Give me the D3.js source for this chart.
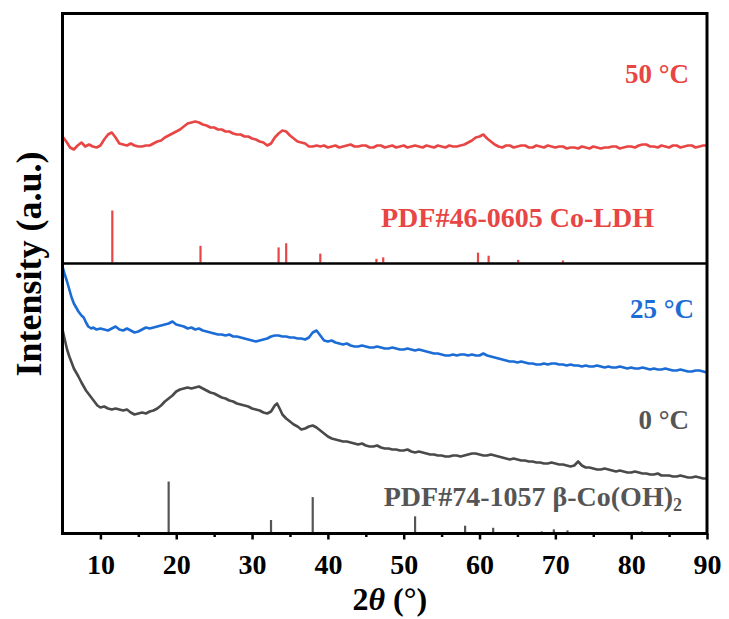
<!DOCTYPE html>
<html>
<head>
<meta charset="utf-8">
<script src="https://cdn.jsdelivr.net/npm/d3@7/dist/d3.min.js"></script>
<style>
    body { margin: 0; background: #fff; }
    svg text { font-family: "Liberation Serif", "Times New Roman", serif; font-weight: bold; }
</style>
</head>
<body>
<div id="chart"></div>
<script>
// XRD patterns: [2theta, intensity (a.u., already stacked)]
const red50 = [[5,397],[5.5,392],[6,386],[6.5,384],[7,388],[7.5,391],[8,387],[8.5,389],[9,387],[9.5,386],[10,388],[10.5,394],[11,399],[11.5,401],[12,396],[12.5,390],[13,389],[13.5,388],[14,390],[14.5,388],[15,387],[15.5,387],[16,388],[16.5,388],[17,390],[17.5,392],[18,393],[18.5,396],[19,398],[19.5,400],[20,402],[20.5,404],[21,407],[21.5,410],[22,411],[22.5,412],[23,411],[23.5,409],[24,408],[24.5,406],[25,406],[25.5,404],[26,404],[26.5,402],[27,402],[27.5,400],[28,399],[28.5,399],[29,397],[29.5,397],[30,395],[30.5,394],[31,392],[31.5,391],[32,388],[32.5,390],[33,396],[33.5,400],[34,403],[34.5,402],[35,398],[35.5,395],[36,392],[36.5,391],[37,390],[37.5,387],[38,387],[38.5,388],[39,387],[39.5,388],[40,386],[40.5,387],[41,388],[41.5,386],[42,387],[42.5,388],[43,389],[43.5,387],[44,387],[44.5,388],[45,388],[45.5,386],[46,386],[46.5,388],[47,388],[47.5,386],[48,387],[48.5,388],[49,386],[49.5,387],[50,388],[50.5,386],[51,387],[51.5,388],[52,387],[52.5,386],[53,388],[53.5,387],[54,386],[54.5,388],[55,387],[55.5,386],[56,388],[56.5,387],[57,387],[57.5,388],[58,389],[58.5,391],[59,393],[59.5,396],[60,397],[60.5,399],[61,395],[61.5,392],[62,389],[62.5,387],[63,386],[63.5,388],[64,388],[64.5,386],[65,387],[65.5,388],[66,388],[66.5,386],[67,386],[67.5,388],[68,387],[68.5,386],[69,388],[69.5,387],[70,386],[70.5,387],[71,387],[71.5,385],[72,386],[72.5,386],[73,385],[73.5,387],[74,386],[74.5,385],[75,387],[75.5,386],[76,385],[76.5,386],[77,386],[77.5,387],[78,387],[78.5,385],[79,386],[79.5,387],[80,387],[80.5,386],[81,388],[81.5,389],[82,389],[82.5,387],[83,387],[83.5,386],[84,388],[84.5,387],[85,386],[85.5,388],[86,388],[86.5,386],[87,387],[87.5,388],[88,388],[88.5,386],[89,387],[89.5,388],[90,388]];

const blue25 = [[5,267],[5.3,259],[5.6,252],[5.9,244],[6.2,236],[6.5,230],[6.8,226],[7.1,222],[7.5,218],[7.8,216],[8.1,211],[8.4,207],[8.8,205],[9,206],[9.5,204],[10,205],[10.5,204],[11,203],[11.5,205],[12,207],[12.5,204],[13,203],[13.5,205],[14,203],[14.5,201],[15,202],[15.5,204],[16,206],[16.5,205],[17,206],[17.5,207],[18,208],[18.5,209],[19,210],[19.5,212],[20,209],[20.5,208],[21,207],[21.5,205],[22,206],[22.5,204],[23,205],[23.5,203],[24,202],[24.5,201],[25,200],[25.5,199],[26,199],[26.5,198],[27,199],[27.5,197],[28,197],[28.5,196],[29,195],[29.5,194],[30,193],[30.5,192],[31,193],[31.5,194],[32,195],[32.5,197],[33,198],[33.5,198],[34,197],[34.5,197],[35,196],[35.5,196],[36,195],[36.5,195],[37,194],[37.5,196],[38,201],[38.5,203],[39,198],[39.5,193],[40,192],[40.5,193],[41,191],[41.5,190],[42,189],[42.5,190],[43,188],[43.5,187],[44,187],[44.5,188],[45,187],[45.5,186],[46,186],[46.5,187],[47,186],[47.5,185],[48,185],[48.5,186],[49,185],[49.5,184],[50,184],[50.5,185],[51,184],[51.5,183],[52,184],[52.5,183],[53,182],[53.5,181],[54,180],[54.5,180],[55,179],[55.5,178],[56,178],[56.5,179],[57,178],[57.5,179],[58,179],[58.5,178],[59,179],[59.5,178],[60,178],[60.5,180],[61,178],[61.5,177],[62,176],[62.5,175],[63,174],[63.5,173],[64,172],[64.5,172],[65,171],[65.5,172],[66,171],[66.5,170],[67,170],[67.5,169],[68,169],[68.5,170],[69,169],[69.5,170],[70,170],[70.5,169],[71,169],[71.5,168],[72,169],[72.5,168],[73,168],[73.5,167],[74,168],[74.5,167],[75,167],[75.5,168],[76,167],[76.5,166],[77,167],[77.5,166],[78,166],[78.5,167],[79,166],[79.5,165],[80,166],[80.5,165],[81,165],[81.5,166],[82,165],[82.5,164],[83,165],[83.5,164],[84,164],[84.5,165],[85,164],[85.5,163],[86,163],[86.5,164],[87,163],[87.5,162],[88,162],[88.5,163],[89,163],[89.5,162],[90,161]];

const grey0 = [[5,204],[5.3,194],[5.6,184],[5.9,177],[6.2,171],[6.5,165],[6.8,161],[7.1,157],[7.5,151],[7.8,147],[8.1,143],[8.4,140],[8.8,136],[9.2,132],[9.6,128],[10,126],[10.5,127],[11,125],[11.5,124],[12,125],[12.5,124],[13,123],[13.5,124],[14,121],[14.5,119],[15,120],[15.5,121],[16,120],[16.5,122],[17,123],[17.5,125],[18,128],[18.5,132],[19,135],[19.5,138],[20,142],[20.5,144],[21,145],[21.5,146],[22,145],[22.5,146],[23,147],[23.5,145],[24,143],[24.5,141],[25,140],[25.5,138],[26,136],[26.5,135],[27,133],[27.5,132],[28,130],[28.5,129],[29,128],[29.5,127],[30,125],[30.5,124],[31,123],[31.5,121],[32,120],[32.5,122],[33,128],[33.3,130],[33.7,124],[34,119],[34.5,115],[35,112],[35.5,109],[36,107],[36.5,104],[37,105],[37.5,107],[38,108],[38.5,106],[39,103],[39.5,100],[40,97],[40.5,95],[41,94],[41.5,93],[42,92],[42.5,92],[43,91],[43.5,90],[44,89],[44.5,90],[45,88],[45.5,87],[46,87],[46.5,88],[47,86],[47.5,85],[48,85],[48.5,84],[49,84],[49.5,83],[50,83],[50.5,84],[51,82],[51.5,81],[52,82],[52.5,81],[53,80],[53.5,79],[54,79],[54.5,78],[55,78],[55.5,77],[56,77],[56.5,78],[57,78],[57.5,77],[58,78],[58.5,79],[59,80],[59.5,80],[60,79],[60.5,78],[61,78],[61.5,79],[62,78],[62.5,77],[63,76],[63.5,75],[64,74],[64.5,75],[65,74],[65.5,73],[66,73],[66.5,72],[67,72],[67.5,71],[68,71],[68.5,70],[69,70],[69.5,71],[70,70],[70.5,69],[71,69],[71.5,68],[72,67],[72.5,68],[73,72],[73.5,68],[74,66],[74.5,66],[75,65],[75.5,64],[76,64],[76.5,65],[77,64],[77.5,63],[78,62],[78.5,63],[79,62],[79.5,61],[80,61],[80.5,62],[81,61],[81.5,60],[82,60],[82.5,59],[83,59],[83.5,60],[84,58],[84.5,58],[85,58],[85.5,57],[86,57],[86.5,58],[87,57],[87.5,56],[88,56],[88.5,57],[89,56],[89.5,55],[90,55]];

// standard cards: peak position and relative intensity (%)
const ldhPeaks = [11.57, 23.2, 33.5, 34.5, 39.0, 46.4, 47.3, 59.8, 61.2, 65.1, 71.0];
const ldhIntensity = [100, 32, 29, 37, 17, 7, 10, 19, 13, 5, 4];
const cooh2Peaks = [19.0, 32.5, 38.0, 38.7, 51.5, 58.1, 61.8, 68.2, 69.8, 71.6, 81.4, 88.2];
const cooh2Intensity = [100, 26, 70, 3, 33, 15, 11, 4, 8, 6, 4, 2];

const ldhBase = 271;      // a.u. level where the LDH card sits
const panelSplit = 270;   // a.u. level of the divider line

const xTicks = [10, 20, 30, 40, 50, 60, 70, 80, 90];
const xMinor = [15, 25, 35, 45, 55, 65, 75, 85];

let margin = {top: 13.5, right: 22, bottom: 85.5, left: 62.5};
let width = 729 - margin.left - margin.right;
let height = 619 - margin.top - margin.bottom;

let svg = d3.select("#chart").append("svg")
    .attr("width", 729)
    .attr("height", 619);

let g = svg.append("g")
    .attr("transform", `translate(${margin.left},${margin.top})`);

let x = d3.scaleLinear().domain([5, 90]).range([0, width]);
let y = d3.scaleLinear().domain([0, 520]).range([height, 0]);
let stick = d3.scaleLinear().domain([0, 100]).range([0, 52]);

// reference sticks
function drawSticks(peaks, vals, base, color) {
    g.append("g").selectAll("line")
        .data(peaks)
        .enter().append("line")
        .attr("x1", d => x(d))
        .attr("x2", d => x(d))
        .attr("y1", y(base))
        .attr("y2", (d, i) => y(base + stick(vals[i])))
        .attr("stroke", color)
        .attr("stroke-width", 2.2);
}
drawSticks(ldhPeaks, ldhIntensity, ldhBase, "#e84545");
drawSticks(cooh2Peaks, cooh2Intensity, 0, "#555555");

// patterns
let line = d3.line().x(d => x(d[0])).y(d => y(d[1]));
[[red50, "#e84545"], [blue25, "#1c6cd6"], [grey0, "#4a4a4a"]].forEach(s => {
    g.append("path")
        .datum(s[0])
        .attr("d", line)
        .attr("fill", "none")
        .attr("stroke", s[1])
        .attr("stroke-width", 2.6)
        .attr("stroke-linejoin", "round");
});

// frame and divider
g.append("rect")
    .attr("width", width)
    .attr("height", height)
    .attr("fill", "none")
    .attr("stroke", "#000")
    .attr("stroke-width", 3);

g.append("line")
    .attr("x1", 0).attr("x2", width)
    .attr("y1", y(panelSplit)).attr("y2", y(panelSplit))
    .attr("stroke", "#000")
    .attr("stroke-width", 2.5);

// x axis
let xAxis = g.append("g")
    .attr("transform", `translate(0,${height})`)
    .call(d3.axisBottom(x).tickValues(xTicks).tickSize(6).tickPadding(15).tickFormat(d3.format("d")));
xAxis.select(".domain").remove();
xAxis.selectAll("line").attr("stroke-width", 2.5);
xAxis.selectAll("text").attr("font-size", 28).attr("fill", "#000")
    .style("font-family", "'Liberation Serif', serif");

let xMinorAxis = g.append("g")
    .attr("transform", `translate(0,${height})`)
    .call(d3.axisBottom(x).tickValues(xMinor).tickSize(3.5).tickFormat(""));
xMinorAxis.select(".domain").remove();
xMinorAxis.selectAll("line").attr("stroke-width", 2.5);

// axis titles
let xt = svg.append("text")
    .attr("x", margin.left + width / 2 + 5)
    .attr("y", 610)
    .attr("text-anchor", "middle")
    .attr("font-size", 32);
xt.append("tspan").text("2");
xt.append("tspan").attr("font-style", "italic").text("θ");
xt.append("tspan").text(" (°)");

svg.append("text")
    .attr("transform", "translate(41,264) rotate(-90)")
    .attr("text-anchor", "middle")
    .attr("font-size", 36)
    .text("Intensity (a.u.)");

// sample labels
svg.append("text").attr("x", 689).attr("y", 83).attr("text-anchor", "end")
    .attr("font-size", 27).attr("fill", "#e84545").text("50 °C");
svg.append("text").attr("x", 654).attr("y", 227).attr("text-anchor", "end")
    .attr("font-size", 28).attr("fill", "#e84545").text("PDF#46-0605 Co-LDH");
svg.append("text").attr("x", 694).attr("y", 318).attr("text-anchor", "end")
    .attr("font-size", 27).attr("fill", "#1c6cd6").text("25 °C");
svg.append("text").attr("x", 689).attr("y", 429).attr("text-anchor", "end")
    .attr("font-size", 27).attr("fill", "#555555").text("0 °C");

let pdf2 = svg.append("text").attr("x", 682).attr("y", 506).attr("text-anchor", "end")
    .attr("font-size", 28).attr("fill", "#555555");
pdf2.append("tspan").text("PDF#74-1057 β-Co(OH)");
pdf2.append("tspan").attr("font-size", 18).attr("dy", 5).text("2");
</script>
</body>
</html>
